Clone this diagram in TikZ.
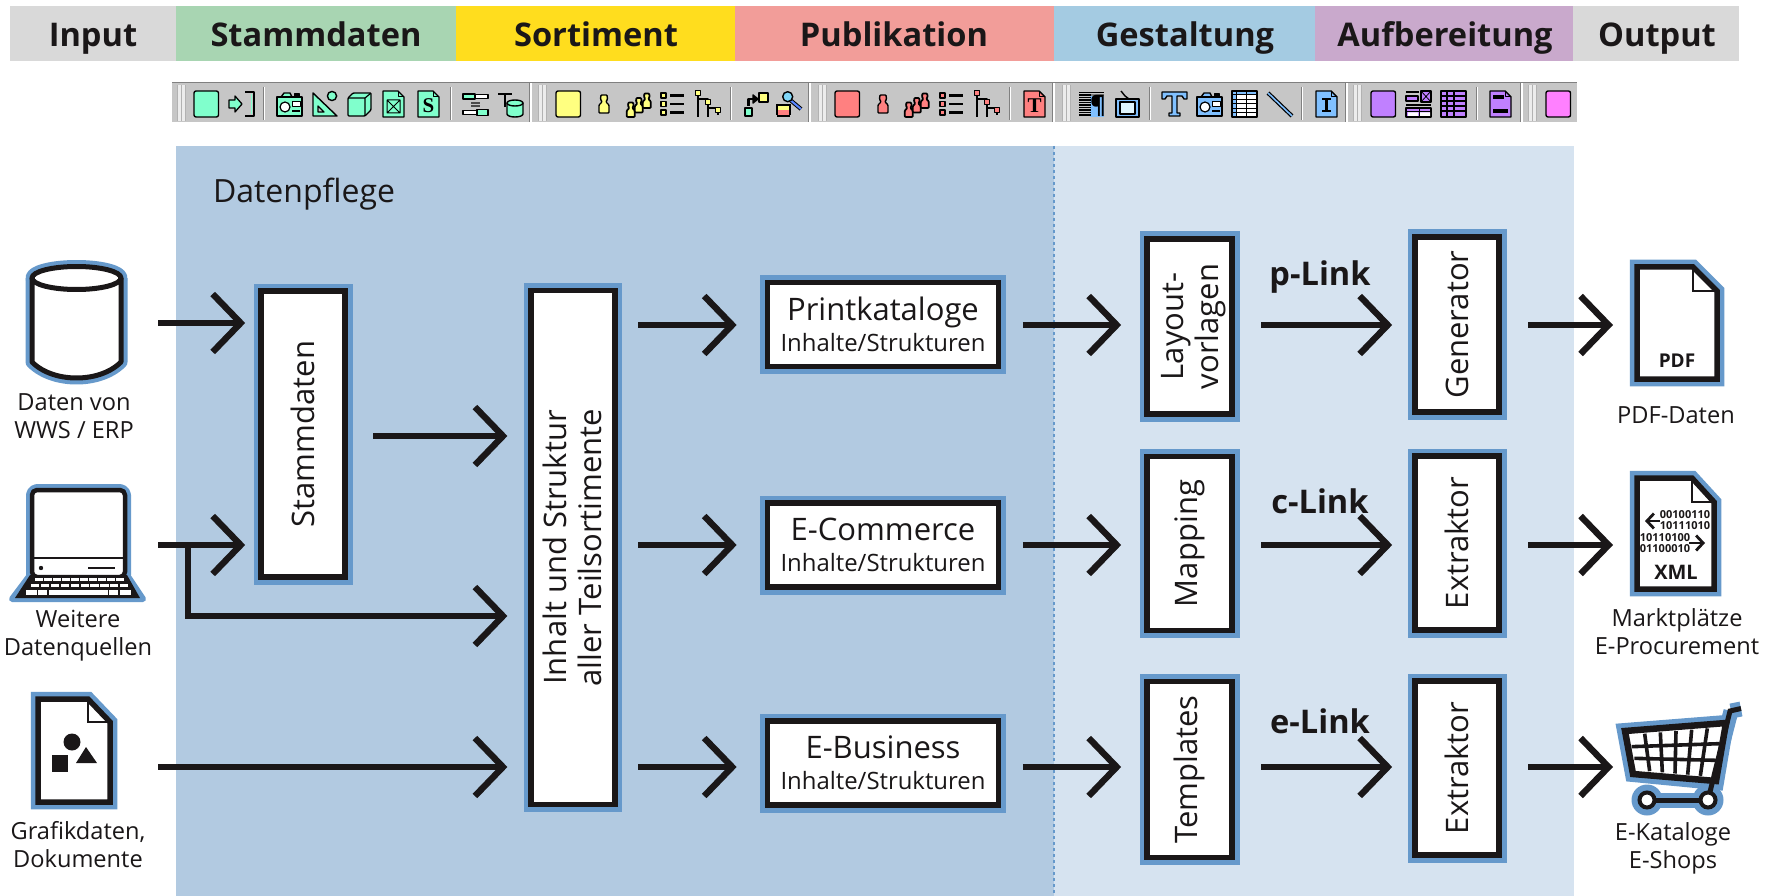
\documentclass[tikz,border=0pt]{standalone}
\usepackage{graphicx}
\usepackage{fontspec}
\setmainfont{Open Sans}
\newfontfamily\serifb{Liberation Serif}
\usetikzlibrary{arrows.meta,calc}
\definecolor{ink}{HTML}{1A1718}
\definecolor{edge}{HTML}{6699CB}
\definecolor{pdark}{HTML}{B2CAE1}
\definecolor{plight}{HTML}{D6E3F0}
\definecolor{hgray}{HTML}{D9D9D9}
\definecolor{hgreen}{HTML}{A8D5B2}
\definecolor{hyellow}{HTML}{FFDD1E}
\definecolor{hred}{HTML}{F29D99}
\definecolor{hblue}{HTML}{A4CBE2}
\definecolor{hpurple}{HTML}{C9A9CC}
\definecolor{tbar}{HTML}{C6C6C6}
\definecolor{icg}{HTML}{80FFCC}
\definecolor{icy}{HTML}{FFFF80}
\definecolor{icr}{HTML}{FF8080}
\definecolor{icb}{HTML}{80C0FF}
\definecolor{icp}{HTML}{C080FF}
\definecolor{icm}{HTML}{FF80FF}
\tikzset{
 hd/.style={anchor=base,text=ink,font=\fontsize{32.6}{36}\selectfont\bfseries},
 box/.style={rectangle,draw=ink,line width=5.7,fill=white,inner sep=0,text=ink,align=center,
   preaction={draw=edge,line width=15},font=\fontsize{31}{35}\selectfont},
 arr/.style={draw=ink,line width=6,line join=miter,-{Straight Barb[length=28,width=58,line width=6.4]}},
 lab/.style={text=ink,align=center,font=\fontsize{23.6}{28}\selectfont,inner sep=0},
 lnk/.style={text=ink,anchor=base,font=\fontsize{32.6}{36}\selectfont\bfseries,inner sep=0},
 tbic/.style={draw=black,line width=1.4,line join=round},
}
\newcommand\subl[1]{{\fontsize{23.9}{26}\selectfont #1}}
\newcommand\IC[2]{\begin{scope}[shift={(#1,91)},tbic] #2 \end{scope}}
\newcommand\tbsq[2]{\IC{#1}{\draw[fill=#2,rounded corners=2] (0,0) rectangle (24.5,26);}}
\newcommand\pawn[4]{\draw[fill=#4,shift={(#1,#2)},scale=#3,line width=1.4/#3,rounded corners=0.8] (3,0)--(9,0)--(9.5,4)--(8,7)--(11,10)--(11,18)--(1,18)--(1,10)--(4,7)--(2.5,4)--cycle;}
\newcommand\tbpawn[2]{\IC{#1}{\pawn{0}{4}{1}{#2}}}
\newcommand\tbpawns[2]{\IC{#1}{\pawn{0}{11.5}{.8}{#2}\pawn{8}{7}{.8}{#2}\pawn{16}{2.5}{.8}{#2}}}
\newcommand\tblist[2]{\IC{#1}{
  \foreach \yy in {2,10.5,19}{\draw[fill=#2,line width=1.2] (0,\yy) rectangle (5,\yy+5);}
  \draw[line width=2.2] (9,4.5)--(23,4.5) (9,13)--(23,13) (9,21.5)--(23,21.5);}}
\newcommand\tbtree[2]{\IC{#1}{
  \draw[line width=1.4] (3,2)--(3,26) (3,8)--(13,8)--(13,26) (13,17)--(23,17)--(23,24);
  \foreach \xx/\yy in {3/2,13/11,23/19}{\draw[fill=#2,line width=1.2] (\xx-2.5,\yy-2.5) rectangle (\xx+2.5,\yy+2.5);}}}
\newcommand\tbdocshape[1]{\draw[fill=#1] (0,0)--(15,0)--(21,6)--(21,26)--(0,26)--cycle; \draw[line width=1] (15,0)--(15,6)--(21,6);}
\newcommand\tbcam[2]{\IC{#1}{
  \draw[fill=#2] (4,6)--(7,2)--(13,2)--(15,6)--cycle;
  \draw[fill=black] (18,2.5) rectangle (22,6);
  \draw[fill=#2] (0,6) rectangle (25,25);
  \draw[fill=white,line width=1.2] (8,16) circle (5);
  \draw[fill=white,line width=1] (15,11) rectangle (23,16);
  \draw[line width=1.4] (15,20)--(23,20);}}
\begin{document}
\begin{tikzpicture}[x=1pt,y=-1pt]
\useasboundingbox (0,0) rectangle (1773,896);
\fill[white] (0,0) rectangle (1773,896);
% header
\fill[hgray] (10,6) rectangle (176,61);
\fill[hgreen] (176,6) rectangle (456,61);
\fill[hyellow] (456,6) rectangle (735,61);
\fill[hred] (735,6) rectangle (1054,61);
\fill[hblue] (1054,6) rectangle (1315,61);
\fill[hpurple] (1315,6) rectangle (1573,61);
\fill[hgray] (1573,6) rectangle (1739,61);
\node[hd] (hInput) at (93,47) {Input};
\node[hd] (hStamm) at (316,47) {Stammdaten};
\node[hd] (hSort) at (596,47) {Sortiment};
\node[hd] (hPub) at (894,47) {Publikation};
\node[hd] (hGest) at (1185,47) {Gestaltung};
\node[hd] (hAuf) at (1445,47) {Aufbereitung};
\node[hd] (hOut) at (1657,47) {Output};
% toolbar
\fill[tbar] (172,82) rectangle (1577,122);
\draw[gray,line width=1.5] (172,82.5)--(1577,82.5);
\foreach \g in {531,810,1054,1347,1522}{\draw[white,line width=1.5] (\g,83) -- (\g,122); \draw[gray,line width=1] (\g-1.2,83)--(\g-1.2,122);}
\foreach \g in {177,538,818,1062,1353,1528}{
  \fill[gray!60] (\g,85) rectangle (\g+9,121);
  \fill[gray!15] (\g+.5,85) rectangle (\g+3.5,121);
  \fill[gray!15] (\g+5,85) rectangle (\g+8,121);}
\foreach \g in {264,451,731,1010,1150,1302,1477}{\draw[white,line width=1.2] (\g,87)--(\g,120); \draw[gray,line width=.8] (\g-1,87)--(\g-1,120);}
% green group
\tbsq{194}{icg}
\IC{229}{\draw[fill=icg,line width=1.3] (0,9)--(6,9)--(6,5)--(13,13)--(6,21)--(6,17)--(0,17)--cycle;
  \draw[line width=2] (16,1.5)--(25,1.5)--(25,25)--(16,25); \draw[icg,line width=1.5] (22.5,3)--(22.5,23);}
\tbcam{277}{icg}
\IC{312}{\draw[fill=icg] (1,2)--(1,25)--(25,25)--cycle; \draw[fill=tbar,line width=1.2] (6,15)--(6,21)--(12,21)--cycle; \draw[fill=icg] (20,5) circle (4.6);}
\IC{348}{\draw[fill=icg,rounded corners=1] (0,7)--(5,2)--(23,2)--(23,19)--(17,25)--(0,25)--cycle; \draw[line width=1.2] (0,7)--(17,7)--(17,25) (17,7)--(23,2);}
\IC{383}{\tbdocshape{icg} \draw[line width=1] (4,9) rectangle (17,22) (4,9)--(17,22) (17,9)--(4,22);}
\IC{418}{\tbdocshape{icg} \node[text=black,font=\serifb\bfseries\fontsize{21}{21}\selectfont,inner sep=0] (sS) at (10.5,14.5) {S};}
\IC{463}{\draw[fill=icg,line width=1.2] (0,3) rectangle (12,8); \draw[fill=white,line width=1.2] (12,3.5) rectangle (25,7.5);
  \draw[gray!60!black,line width=1.2] (8,12)--(17,12) (8,15)--(17,15);
  \draw[fill=white,line width=1.2] (0,19.5) rectangle (14,23.5); \draw[fill=icg,line width=1.2] (14,18.5) rectangle (25,24.5);}
\IC{498}{\draw[line width=2.8] (0,3)--(14,3) (7,3)--(7,16);
  \draw[fill=icg] (9,12)--(9,23) arc[start angle=180,end angle=0,x radius=8,y radius=3]--(25,12);
  \draw[fill=icg] (17,12) ellipse (8 and 3);}
% yellow group
\tbsq{556}{icy}
\tbpawn{598}{icy}
\tbpawns{626}{icy}
\tblist{661}{icy}
\tbtree{695}{icy}
\IC{743}{\draw[fill=icg,line width=1.3] (2,17) rectangle (9,25); \draw[fill=icy,line width=1.3] (16,2) rectangle (25,11);
  \draw[line width=2.4] (5.5,15)--(5.5,8)--(10,8); \draw[fill=black] (10,4)--(15,8)--(10,12)--cycle;}
\IC{777}{\draw[line width=4] (12,8)--(24,18); \draw[icb!70!blue,line width=2] (12,8)--(24,18);
  \fill[icy] (0,13) rectangle (13,19); \fill[icr] (0,19) rectangle (13,25);
  \draw (0,13)--(0,24) (13,13)--(13,24) (0,25)--(13,25) (0,14)--(13,14);
  \draw[fill=cyan!50] (10.7,5.7) circle (5);}
% red group
\tbsq{835}{icr}
\tbpawn{877}{icr}
\tbpawns{904}{icr}
\tblist{940}{icr}
\tbtree{974}{icr}
\IC{1024}{\tbdocshape{icr} \node[text=black,font=\serifb\bfseries\fontsize{21}{21}\selectfont,inner sep=0] (sT) at (10.5,14.5) {T};}
% blue group
\IC{1079}{\fill[icb] (11,5) rectangle (25,26);
  \foreach \yy in {1.5,4,6.5,9,11.5,14,16.5,19,21.5,24}{\draw[line width=1.1] (0,\yy)--(12,\yy);}
  \draw[line width=1.1] (12,1.5)--(25,1.5);
  \draw[gray,line width=1.1] (12,4)--(25,4);
  \node[text=black,font=\fontsize{24}{24}\selectfont\bfseries,inner sep=0] (sPara) at (19,14.5) {¶};}
\IC{1116}{\draw[line width=1.4] (5,0)--(9,5)--(13,8); \draw[fill=icb] (0,8) rectangle (23,26); \draw[fill=cyan!12,line width=1.2] (4,11) rectangle (19,23);}
\IC{1162}{\draw[fill=icb] (0,1)--(25,1)--(25,8)--(22,8)--(20,5)--(15,5)--(15,22)--(18,22)--(18,25)--(7,25)--(7,22)--(10,22)--(10,5)--(5,5)--(3,8)--(0,8)--cycle;}
\tbcam{1197}{icb}
\IC{1232}{\fill[white] (0,0) rectangle (25,26); \fill[icb] (0,0) rectangle (25,4); \fill[icb] (0,0) rectangle (4,26);
  \draw[line width=1.3] (0,0) rectangle (25,26);
  \foreach \yy in {4,8.4,12.8,17.2,21.6}{\draw[line width=1] (0,\yy)--(25,\yy);}
  \draw[line width=1] (4,0)--(4,26) (14,0)--(14,26);}
\IC{1267}{\draw[line width=4] (1,2)--(25,25); \draw[icb,line width=1.6] (1,2)--(25,25);}
\IC{1316}{\tbdocshape{icb} \draw[line width=2.4] (6,8)--(15,8) (10.5,8)--(10.5,20) (6,20)--(15,20);}
% purple group
\tbsq{1371}{icp}
\IC{1406}{\fill (0,0) rectangle (13,2.2); \draw[fill=icp,line width=1.1] (0,5) rectangle (12,10); \draw[fill=icp,line width=1.2] (15,0) rectangle (25,11);
  \draw[line width=.8] (15,0)--(25,11) (25,0)--(15,11);
  \draw[line width=1.5] (0,14)--(25,14);
  \draw[fill=icp,line width=1.2] (0,17) rectangle (25,26); \fill[white] (2,21.5) rectangle (12,25) (14,21.5) rectangle (24,25); \draw[line width=1] (0,21)--(25,21) (13,17)--(13,26);}
\IC{1441}{\draw[fill=icp] (0,0) rectangle (25,26); \foreach \yy in {5,10,15,20}{\draw[line width=1.3] (0,\yy)--(25,\yy);} \draw[line width=1.3] (6,0)--(6,26) (13,0)--(13,26);}
\IC{1490}{\tbdocshape{icp} \fill (3,4) rectangle (14,8); \fill (3,18) rectangle (18,22);}
% magenta
\tbsq{1546}{icm}
% panels
\fill[pdark] (176,146) rectangle (1054,896);
\fill[plight] (1054,146) rectangle (1574,896);
\draw[edge,line width=1.3,dashed] (1054,146)--(1054,896);
\node[anchor=base,text=ink,font=\fontsize{32}{36}\selectfont,inner sep=0] (dp) at (304,203) {Datenpflege};
% source icons
\begin{scope}[line join=round]
 \foreach \cc/\ww in {edge/13,ink/5}{
   \draw[draw=\cc,line width=\ww,fill=white] (32,278) -- (32,362) .. controls (44,374) and (62,378) .. (76.5,378) .. controls (91,378) and (109,374) .. (121,362) -- (121,278);
   \draw[draw=\cc,line width=\ww,fill=white] (76.5,278) ellipse (44.5 and 11.5);}
 \draw[edge,line width=12,rounded corners=5] (32,575)--(32,490)--(125,490)--(125,575);
 \draw[edge,line width=6,fill=edge] (30,575)--(127,575)--(143,599)--(12,599)--cycle;
 \draw[ink,line width=4.5,fill=white,rounded corners=5] (32,577)--(32,490)--(125,490)--(125,577)--cycle;
 \draw[ink,line width=2] (32,558)--(125,558);
 \fill[ink] (41,568) circle (2.2);
 \draw[ink,line width=1.6] (88,568)--(115,568);
 \fill[ink] (30,575)--(127,575)--(140,598)--(15,598)--cycle;
 \foreach \i in {0,...,9}{\fill[white] (35+\i*9,577.5) rectangle +(7.5,3.5);}
 \foreach \i in {0,...,9}{\fill[white] (31+\i*9.9,583.5) rectangle +(8.2,3.8);}
 \fill[white] (26,590) rectangle +(10.5,4.5);
 \fill[white] (38,590) rectangle +(9,4.5);
 \fill[white] (48.5,590) rectangle +(59,4.5);
 \fill[white] (109,590) rectangle +(9,4.5);
 \fill[white] (119.5,590) rectangle +(11,4.5);
\end{scope}
\newcommand\docicon[6]{%
 \draw[edge,line width=14.5,fill=white,line join=miter] (#1,#2)--(#5,#2)--(#3,#6)--(#3,#4)--(#1,#4)--cycle;
 \draw[ink,line width=5.5,fill=white,line join=miter] (#1,#2)--(#5,#2)--(#3,#6)--(#3,#4)--(#1,#4)--cycle;
 \draw[ink,line width=2,line join=miter] (#5,#2)--(#5,#6)--(#3,#6);}
\docicon{38}{699}{110}{802}{88}{722}
\fill[ink] (72,742) circle (8.5);
\fill[ink] (52,755) rectangle (68,772);
\fill[ink] (86,747)--(76,763)--(97,763)--cycle;
\node[lab] (l1) at (74,416) {Daten von\\WWS / ERP};
\node[lab] (l2) at (78,636) {Weitere\\Datenquellen};
\node[lab] (l3) at (78,845) {Grafikdaten,\\Dokumente};
% target icons
\docicon{1637}{267}{1717}{379}{1693}{291}
\node[text=ink,font=\fontsize{19}{22}\selectfont\bfseries,inner sep=0] (tpdf) at (1677,361) {PDF};
\docicon{1637}{478}{1714}{589}{1692}{502}
\begin{scope}[font=\fontsize{11}{12}\selectfont\bfseries,text=ink]
\node[inner sep=0] (b1) at (1685,515) {00100110};
\node[inner sep=0] (b2) at (1685,526) {10111010};
\node[inner sep=0] (b3) at (1665,538) {10110100};
\node[inner sep=0] (b4) at (1665,549) {01100010};
\end{scope}
\node[text=ink,font=\fontsize{20}{22}\selectfont\bfseries,inner sep=0] (txml) at (1676,572) {XML};
\draw[ink,line width=2.8,-{Straight Barb[length=7,width=15,line width=2.8]}] (1660,521)--(1645,521);
\draw[ink,line width=2.8,-{Straight Barb[length=7,width=15,line width=2.8]}] (1689,543)--(1705,543);
% cart
\coordinate (cTL) at (1629,735);
\coordinate (cTR) at (1723,727);
\coordinate (cBR) at (1713,777);
\coordinate (cBL) at (1637,770);
\begin{scope}[line join=miter]
 \draw[edge,line width=16,fill=edge] (1625,731)--(1726,723)--(1716,782)--(1633,774)--cycle;
 \draw[edge,line width=15] (1731,711)--(1708,800);
 \draw[edge,line width=15] (1731,711)--(1741,709);
 \draw[edge,line width=15] (1647,800)--(1708,800);
 \fill[edge] (1647,800) circle (15.5);
 \fill[edge] (1708,800) circle (15.5);
 \draw[ink,line width=6.5,fill=white] (1625,731)--(1726,723)--(1716,781)--(1633,774)--cycle;
 \foreach \t in {0.1667,0.3333,0.5,0.6667,0.8333}{\draw[ink,line width=3.6] ($(cTL)!\t!(cTR)$)--($(cBL)!\t!(cBR)$);}
 \foreach \t in {0.3333,0.6667}{\draw[ink,line width=3.6] ($(cTL)!\t!(cBL)$)--($(cTR)!\t!(cBR)$);}
 \draw[ink,line width=5] (1741,708.5)--(1730,711)--(1708,800);
 \draw[ink,line width=5] (1647,800)--(1708,800);
 \draw[ink,line width=4,fill=white] (1647,800) circle (7.5);
 \draw[ink,line width=4,fill=white] (1708,800) circle (7.5);
\end{scope}
\node[lab] (r1) at (1676,415) {PDF-Daten};
\node[lab] (r2) at (1677,632) {Marktplätze\\E-Procurement};
\node[lab] (r3) at (1673,848) {E-Kataloge\\E-Shops};
% boxes
\node[box,minimum width=84,minimum height=286] (stamm) at (303,434) {\rotatebox{90}{Stammdaten}};
\node[box,minimum width=83.5,minimum height=514] (inhalt) at (573,547.5) {\kern7pt\rotatebox{90}{\begin{tabular}{@{}c@{}}Inhalt und Struktur\\aller Teilsortimente\end{tabular}}};
\node[box,minimum width=231,minimum height=84] (print) at (883,324.5) {Printkataloge\\[-4pt]\subl{Inhalte/Strukturen}};
\node[box,minimum width=231,minimum height=84] (ecom) at (883,545) {E-Commerce\\[-4pt]\subl{Inhalte/Strukturen}};
\node[box,minimum width=231,minimum height=84] (ebus) at (883,763) {E-Business\\[-4pt]\subl{Inhalte/Strukturen}};
\node[box,minimum width=85,minimum height=175] (layout) at (1189.5,326.5) {\kern8pt\rotatebox{90}{\begin{tabular}{@{}c@{}}Layout-\\vorlagen\end{tabular}}};
\node[box,minimum width=85,minimum height=174] (mapping) at (1189.5,543.5) {\rotatebox{90}{Mapping}};
\node[box,minimum width=85,minimum height=176] (templ) at (1189.5,769.5) {\rotatebox{90}{Templates}};
\node[box,minimum width=84,minimum height=175] (gen) at (1457,324.5) {\rotatebox{90}{Generator}};
\node[box,minimum width=84,minimum height=174] (ex1) at (1457,543) {\rotatebox{90}{Extraktor}};
\node[box,minimum width=84,minimum height=174] (ex2) at (1457,768) {\rotatebox{90}{Extraktor}};
% link labels
\node[lnk] (pl) at (1320,285) {p-Link};
\node[lnk] (cl) at (1320,513) {c-Link};
\node[lnk] (el) at (1320,733) {e-Link};
% free ends and connectors
\coordinate (rowA) at (0,325);
\coordinate (rowB) at (0,545);
\coordinate (rowC) at (0,767);
\coordinate (rowS) at (0,436);
\coordinate (dbo) at (158,323);
\coordinate (lto) at (158,545);
\coordinate (gro) at (158,767);
\coordinate (bend) at (188,545);
\coordinate (bend2) at (188,616);
\coordinate (ypdf) at (1613,325);
\coordinate (yxml) at (1613,545);
\coordinate (ycart) at (1613,767);
\draw[arr,shorten >=13] (dbo) -- (stamm.west |- dbo);
\draw[arr,shorten >=13] (lto) -- (stamm.west |- lto);
\draw[arr,shorten >=21] (bend) -- (bend2) -- (inhalt.west |- bend2);
\draw[arr,shorten >=21,shorten <=25.5] (stamm.east |- rowS) -- (inhalt.west |- rowS);
\draw[arr,shorten >=21] (gro) -- (inhalt.west |- gro);
\draw[arr,shorten <=20.5,shorten >=28] (inhalt.east |- rowA) -- (print.west |- rowA);
\draw[arr,shorten <=20.5,shorten >=28] (inhalt.east |- rowB) -- (ecom.west |- rowB);
\draw[arr,shorten <=20.5,shorten >=28] (inhalt.east |- rowC) -- (ebus.west |- rowC);
\draw[arr,shorten <=21.5,shorten >=23] (print.east |- rowA) -- (layout.west |- rowA);
\draw[arr,shorten <=21.5,shorten >=23] (ecom.east |- rowB) -- (mapping.west |- rowB);
\draw[arr,shorten <=21.5,shorten >=23] (ebus.east |- rowC) -- (templ.west |- rowC);
\draw[arr,shorten <=26.5,shorten >=20] (layout.east |- rowA) -- (gen.west |- rowA);
\draw[arr,shorten <=26.5,shorten >=20] (mapping.east |- rowB) -- (ex1.west |- rowB);
\draw[arr,shorten <=26.5,shorten >=20] (templ.east |- rowC) -- (ex2.west |- rowC);
\draw[arr,shorten <=26.5] (gen.east |- ypdf) -- (ypdf);
\draw[arr,shorten <=26.5] (ex1.east |- yxml) -- (yxml);
\draw[arr,shorten <=26.5] (ex2.east |- ycart) -- (ycart);
\end{tikzpicture}
\end{document}
